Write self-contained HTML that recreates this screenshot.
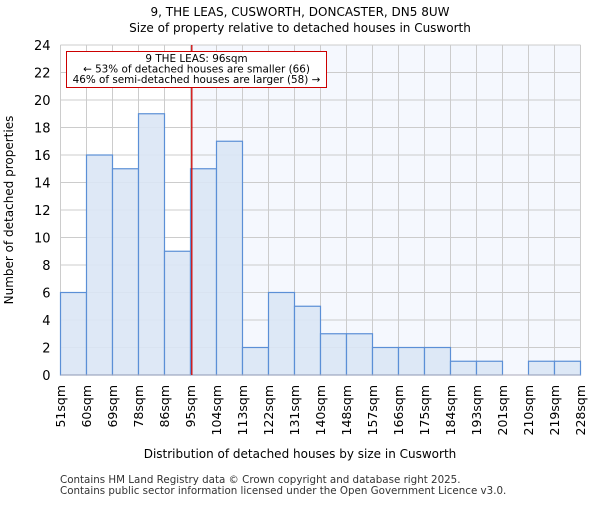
<!DOCTYPE html>
<html><head><meta charset="utf-8"><style>body{margin:0;background:#fff}text{font-family:"DejaVu Sans","Liberation Sans",sans-serif}</style></head>
<body>
<svg id="c" width="600" height="500" xmlns="http://www.w3.org/2000/svg"></svg>
<script>
const categories=["51sqm","60sqm","69sqm","78sqm","86sqm","95sqm","104sqm","113sqm","122sqm","131sqm","140sqm","148sqm","157sqm","166sqm","175sqm","184sqm","193sqm","201sqm","210sqm","219sqm","228sqm"];
const counts=[6,16,15,19,9,15,17,2,6,5,3,3,2,2,2,1,1,0,1,1];
const yTicks=[0,2,4,6,8,10,12,14,16,18,20,22,24];
const markerBin=5.05;
const L=60.5,R=580.5,T=45,B=375,yMax=24;
const n=counts.length,bw=(R-L)/n;
const xs=i=>L+i*bw, ys=v=>B-v/yMax*(B-T);
const s=document.getElementById('c'),NS="http://www.w3.org/2000/svg";
function el(t,a,p){const e=document.createElementNS(NS,t);for(const k in a)e.setAttribute(k,a[k]);(p||s).appendChild(e);return e;}
let e;
const mx=xs(markerBin);
e=el('rect',{x:mx,y:T,width:R-mx,height:B-T,fill:'#f5f8fe'});


yTicks.forEach(v=>{e=el('line',{x1:L,x2:R,y1:ys(v),y2:ys(v),stroke:'#cccccc'});


e=el('text',{x:L-10,y:ys(v)+5,'text-anchor':'end','font-size':13,fill:'#000'});e.textContent=v;

});
categories.forEach((c,i)=>{const x=xs(i);e=el('line',{x1:x,x2:x,y1:T,y2:B,stroke:'#cccccc'});


e=el('text',{x:0,y:0,transform:`translate(${x+4.5},385) rotate(-90)`,'text-anchor':'end','font-size':12.5,fill:'#000'});e.textContent=c;

});
counts.forEach((v,i)=>{if(v<=0)return;e=el('rect',{x:xs(i),y:ys(v),width:bw,height:B-ys(v),fill:'#dae5f5','fill-opacity':0.9,stroke:'#5b8fd6','stroke-width':1.2});

});
e=el('line',{x1:L,x2:R,y1:B,y2:B,stroke:'#aab'});


e=el('line',{x1:mx,x2:mx,y1:T,y2:B,stroke:'#cc0000','stroke-width':1.3});


e=el('rect',{x:66.5,y:51.5,width:260,height:36,fill:'#fff',stroke:'#cc0000'});


["9 THE LEAS: 96sqm","← 53% of detached houses are smaller (66)","46% of semi-detached houses are larger (58) →"].forEach((t,i)=>{e=el('text',{x:196.5,y:62+i*10.5,'text-anchor':'middle','font-size':10.4});e.textContent=t;

});
e=el('text',{x:300,y:16,'text-anchor':'middle','font-size':12});e.textContent="9, THE LEAS, CUSWORTH, DONCASTER, DN5 8UW";


e=el('text',{x:300,y:32,'text-anchor':'middle','font-size':12});e.textContent="Size of property relative to detached houses in Cusworth";


e=el('text',{x:300,y:458,'text-anchor':'middle','font-size':12});e.textContent="Distribution of detached houses by size in Cusworth";


e=el('text',{x:0,y:0,transform:'translate(13,210) rotate(-90)','text-anchor':'middle','font-size':12});e.textContent="Number of detached properties";


e=el('text',{x:60,y:483,'font-size':10.3,fill:'#333'});e.textContent="Contains HM Land Registry data © Crown copyright and database right 2025.";


e=el('text',{x:60,y:494,'font-size':10.3,fill:'#333'});e.textContent="Contains public sector information licensed under the Open Government Licence v3.0.";


</script>
</body></html>
